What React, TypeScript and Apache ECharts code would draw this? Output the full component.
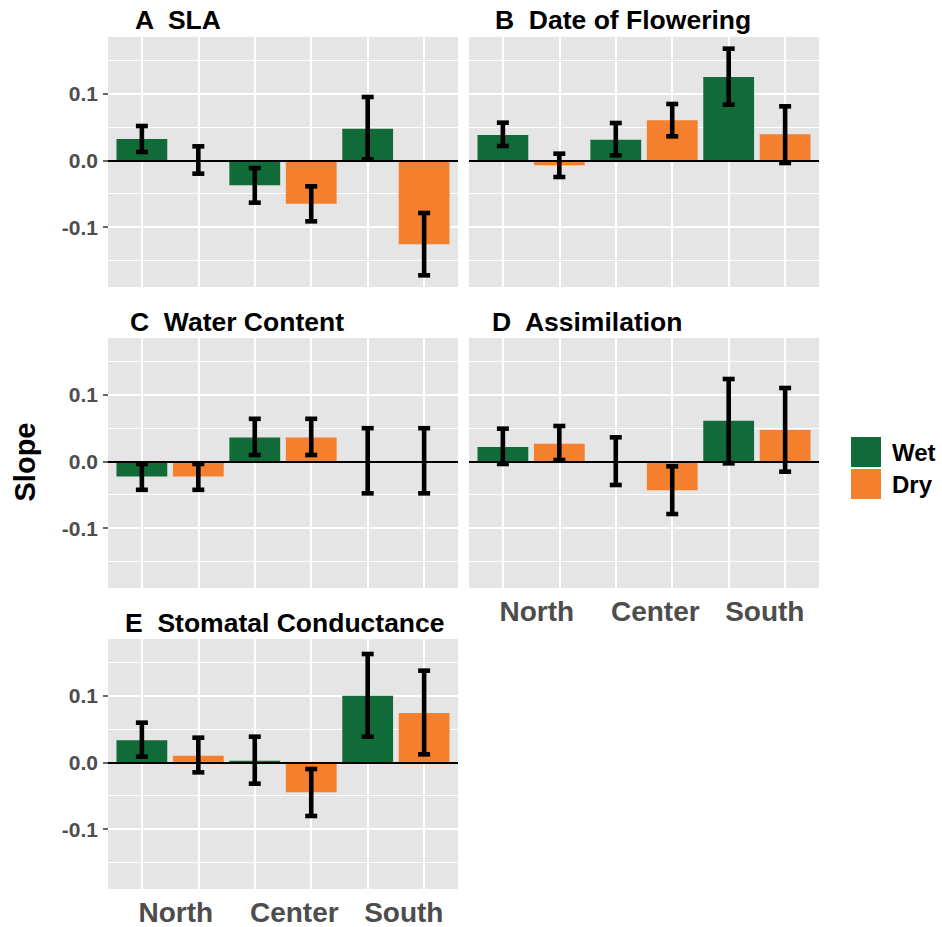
import React, { useEffect, useRef } from "react";
import * as echarts from "echarts";

// ---- data ----
const regions = ["North", "Center", "South"];
const wetX = [1, 3, 5];
const dryX = [2, 4, 6];
const xTickValues = [1, 2, 3, 4, 5, 6];
const regionLabelPos = [1.6, 3.7, 5.64];
const yTickValues = [-0.1, 0, 0.1];
const yMinorGrid = [-0.15, -0.05, 0.05, 0.15];
const yMajorGrid = [-0.1, 0.1];
const panelTitles = ["A  SLA", "B  Date of Flowering", "C  Water Content", "D  Assimilation", "E  Stomatal Conductance"];

// A SLA
const slaWet = [0.032, -0.0375, 0.0475];
const slaWetLow = [0.0125, -0.0635, 0.0015];
const slaWetHigh = [0.0515, -0.0115, 0.095];
const slaDry = [0.0, -0.065, -0.126];
const slaDryLow = [-0.02, -0.0915, -0.1725];
const slaDryHigh = [0.021, -0.039, -0.079];

// B Date of Flowering
const flowWet = [0.038, 0.031, 0.125];
const flowWetLow = [0.0215, 0.0075, 0.0835];
const flowWetHigh = [0.0565, 0.056, 0.1675];
const flowDry = [-0.0075, 0.06, 0.039];
const flowDryLow = [-0.025, 0.036, -0.004];
const flowDryHigh = [0.01, 0.0845, 0.081];

// C Water Content
const waterWet = [-0.0226, 0.0357, 0.0];
const waterWetLow = [-0.0427, 0.0095, -0.048];
const waterWetHigh = [-0.004, 0.0638, 0.0497];
const waterDry = [-0.0226, 0.0357, 0.0];
const waterDryLow = [-0.0427, 0.0095, -0.048];
const waterDryHigh = [-0.004, 0.0638, 0.0497];

// D Assimilation
const assimWet = [0.0215, 0.0, 0.061];
const assimWetLow = [-0.004, -0.0355, -0.003];
const assimWetHigh = [0.049, 0.036, 0.1235];
const assimDry = [0.0265, -0.0435, 0.047];
const assimDryLow = [0.002, -0.079, -0.0155];
const assimDryHigh = [0.053, -0.0075, 0.11];

// E Stomatal Conductance
const stomWet = [0.033, 0.0025, 0.1];
const stomWetLow = [0.0085, -0.032, 0.0385];
const stomWetHigh = [0.0595, 0.0385, 0.1625];
const stomDry = [0.01, -0.045, 0.074];
const stomDryLow = [-0.015, -0.0805, 0.012];
const stomDryHigh = [0.037, -0.01, 0.1375];

const panels = [
  { wet: slaWet, wetLow: slaWetLow, wetHigh: slaWetHigh, dry: slaDry, dryLow: slaDryLow, dryHigh: slaDryHigh },
  { wet: flowWet, wetLow: flowWetLow, wetHigh: flowWetHigh, dry: flowDry, dryLow: flowDryLow, dryHigh: flowDryHigh },
  { wet: waterWet, wetLow: waterWetLow, wetHigh: waterWetHigh, dry: waterDry, dryLow: waterDryLow, dryHigh: waterDryHigh },
  { wet: assimWet, wetLow: assimWetLow, wetHigh: assimWetHigh, dry: assimDry, dryLow: assimDryLow, dryHigh: assimDryHigh },
  { wet: stomWet, wetLow: stomWetLow, wetHigh: stomWetHigh, dry: stomDry, dryLow: stomDryLow, dryHigh: stomDryHigh },
];

// ---- layout / style ----
const FONT = "'Liberation Sans', Arial, Helvetica, sans-serif";
const GREEN = "#116B38";
const ORANGE = "#F47F2D";
const PANEL_BG = "#E5E5E5";
const GRID_POS = [
  { left: 108, top: 37 },
  { left: 469, top: 37 },
  { left: 108, top: 338 },
  { left: 469, top: 338 },
  { left: 108, top: 639 },
];
const TITLE_POS = [
  { x: 135, y: 20 },
  { x: 495, y: 20 },
  { x: 130, y: 321.5 },
  { x: 492, y: 322 },
  { x: 125, y: 623 },
];
const PW = 350;
const PH = 250;
const Y_MIN = -0.19;
const Y_MAX = 0.185;
const BAR_W = 50.8;

export default function App() {
  const ref = useRef<HTMLDivElement>(null);
  useEffect(() => {
    if (!ref.current) return;
    const chart = echarts.init(ref.current, undefined, { renderer: "svg" });

    const grids = GRID_POS.map((g) => ({
      left: g.left,
      top: g.top,
      width: PW,
      height: PH,
      show: true,
      backgroundColor: PANEL_BG,
      borderWidth: 0,
    }));

    const xAxes = GRID_POS.map((_, i) => {
      const hasX = i === 3 || i === 4;
      return {
        gridIndex: i,
        type: "value",
        min: 0.4,
        max: 6.6,
        splitLine: { show: false },
        axisLine: { show: false },
        axisTick: hasX
          ? { show: true, customValues: xTickValues, length: 5, lineStyle: { color: "#333", width: 1.5 } }
          : { show: false },
        axisLabel: hasX
          ? {
              show: true,
              customValues: regionLabelPos,
              formatter: (v: number) => {
                const idx = regionLabelPos.findIndex((p) => Math.abs(p - v) < 1e-6);
                return idx >= 0 ? regions[idx] : "";
              },
              fontSize: 28,
              fontWeight: "bold",
              fontFamily: FONT,
              color: "#4D4D4D",
              margin: 9,
            }
          : { show: false },
      };
    });

    const yAxes = GRID_POS.map((_, i) => {
      const hasY = i === 0 || i === 2 || i === 4;
      return {
        gridIndex: i,
        type: "value",
        min: Y_MIN,
        max: Y_MAX,
        splitLine: { show: false },
        axisLine: { show: false },
        axisTick: hasY
          ? { show: true, customValues: yTickValues, length: 5, lineStyle: { color: "#333", width: 1.5 } }
          : { show: false },
        axisLabel: hasY
          ? {
              show: true,
              customValues: yTickValues,
              formatter: (v: number) => (Math.abs(v) < 1e-9 ? "0.0" : v.toFixed(1)),
              fontSize: 21,
              fontWeight: "bold",
              fontFamily: FONT,
              color: "#4D4D4D",
              margin: 10,
            }
          : { show: false },
      };
    });

    const series: any[] = [];
    panels.forEach((p, i) => {
      const gridLines: any[] = [];
      xTickValues.forEach((x) => gridLines.push({ xAxis: x, lineStyle: { color: "#fff", width: 2, type: "solid" } }));
      yMajorGrid.forEach((y) => gridLines.push({ yAxis: y, lineStyle: { color: "#fff", width: 2, type: "solid" } }));
      yMinorGrid.forEach((y) => gridLines.push({ yAxis: y, lineStyle: { color: "#fff", width: 1, type: "solid" } }));
      series.push({
        type: "line",
        xAxisIndex: i,
        yAxisIndex: i,
        data: [],
        silent: true,
        z: 1,
        markLine: {
          z: 1,
          silent: true,
          symbol: ["none", "none"],
          label: { show: false },
          emphasis: { disabled: true },
          animation: false,
          data: gridLines,
        },
      });
      series.push({
        type: "bar",
        name: "Wet",
        xAxisIndex: i,
        yAxisIndex: i,
        data: p.wet.map((v, k) => [wetX[k], v]),
        barWidth: BAR_W,
        barGap: "-100%",
        itemStyle: { color: GREEN },
        z: 2,
        silent: true,
      });
      series.push({
        type: "bar",
        name: "Dry",
        xAxisIndex: i,
        yAxisIndex: i,
        data: p.dry.map((v, k) => [dryX[k], v]),
        barWidth: BAR_W,
        barGap: "-100%",
        itemStyle: { color: ORANGE },
        z: 2,
        silent: true,
      });
      series.push({
        type: "line",
        xAxisIndex: i,
        yAxisIndex: i,
        data: [],
        silent: true,
        z: 3,
        markLine: {
          z: 3,
          silent: true,
          symbol: ["none", "none"],
          label: { show: false },
          emphasis: { disabled: true },
          animation: false,
          data: [{ yAxis: 0, lineStyle: { color: "#000", width: 2, type: "solid" } }],
        },
      });
      const errData = [
        ...wetX.map((x, k) => [x, p.wetLow[k], p.wetHigh[k]]),
        ...dryX.map((x, k) => [x, p.dryLow[k], p.dryHigh[k]]),
      ];
      series.push({
        type: "custom",
        xAxisIndex: i,
        yAxisIndex: i,
        z: 4,
        silent: true,
        encode: { x: 0, y: [1, 2] },
        data: errData,
        renderItem: (params: any, api: any) => {
          const x = api.value(0);
          const lo = api.coord([x, api.value(1)]);
          const hi = api.coord([x, api.value(2)]);
          const cw = 6;
          const st = { stroke: "#000", lineWidth: 4.6 };
          return {
            type: "group",
            children: [
              { type: "line", shape: { x1: lo[0], y1: lo[1], x2: hi[0], y2: hi[1] }, style: st },
              { type: "line", shape: { x1: lo[0] - cw, y1: lo[1], x2: lo[0] + cw, y2: lo[1] }, style: st },
              { type: "line", shape: { x1: hi[0] - cw, y1: hi[1], x2: hi[0] + cw, y2: hi[1] }, style: st },
            ],
          };
        },
      });
    });

    const graphic: any[] = panelTitles.map((t, i) => ({
      type: "text",
      x: TITLE_POS[i].x,
      y: TITLE_POS[i].y,
      silent: true,
      style: {
        text: t,
        fontSize: 26.5,
        fontWeight: "bold",
        fontFamily: FONT,
        fill: "#000",
        align: "left",
        verticalAlign: "middle",
      },
    }));
    graphic.push({
      type: "text",
      x: 25,
      y: 462,
      rotation: Math.PI / 2,
      silent: true,
      style: {
        text: "Slope",
        fontSize: 29,
        fontWeight: "bold",
        fontFamily: FONT,
        fill: "#000",
        align: "center",
        verticalAlign: "middle",
      },
    });

    chart.setOption({
      animation: false,
      textStyle: { fontFamily: FONT },
      grid: grids,
      xAxis: xAxes,
      yAxis: yAxes,
      legend: {
        data: ["Wet", "Dry"],
        orient: "vertical",
        left: 851,
        top: 437,
        padding: 0,
        itemWidth: 30,
        itemHeight: 30,
        itemGap: 2,
        icon: "rect",
        selectedMode: false,
        textStyle: { fontSize: 24, fontWeight: "bold", color: "#000", fontFamily: FONT, padding: [0, 0, 0, 6] },
      },
      graphic,
      series,
    });
    return () => chart.dispose();
  }, []);
  return <div ref={ref} style={{ position: "absolute", left: 0, top: 0, width: 942, height: 927 }} />;
}
